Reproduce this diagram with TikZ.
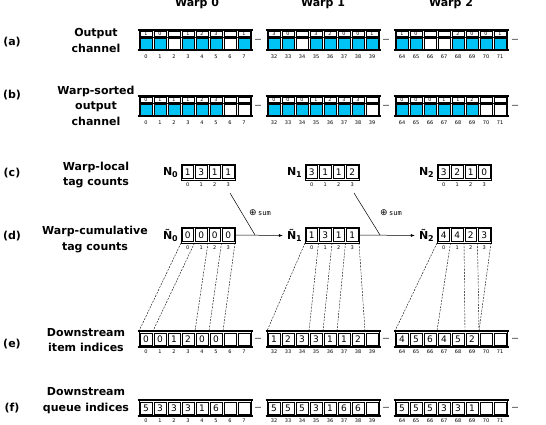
\documentclass[tikz,border=0pt]{standalone}
\usepackage{fontspec}
\setmainfont{DejaVu Sans}
\setmonofont{DejaVu Sans Mono}
\usetikzlibrary{calc,arrows.meta}
\definecolor{cellblue}{RGB}{0,195,245}

\tikzset{
  rowtitle/.style={font=\bfseries\fontsize{11}{15.5}\selectfont, align=center, inner sep=0},
  rowtag/.style={font=\bfseries\fontsize{11}{13}\selectfont, inner sep=0},
  warptitle/.style={font=\bfseries\fontsize{11}{13}\selectfont, inner sep=0, anchor=base},
  countname/.style={font=\bfseries\fontsize{11}{13}\selectfont, inner sep=0},
  idx/.style={font=\fontsize{5}{5}\selectfont, inner sep=0},
  stripval/.style={font=\fontsize{4.8}{4.8}\selectfont, inner sep=0},
  cellval/.style={font=\fontsize{9}{9}\selectfont, inner sep=0},
  cellline/.style={draw=black, line width=0.45pt},
  framebar/.style={line width=1.3pt},
  frameside/.style={line width=0.6pt},
  gap/.style={font=\bfseries\fontsize{6}{6}\selectfont, inner sep=0},
  link/.style={line width=0.4pt, dash pattern=on 2pt off 1.2pt},
  flow/.style={line width=0.5pt},
  holder/.style={inner sep=0, outer sep=0, anchor=north west},
}

% open frame with heavy top and bottom rails
\newcommand\railframe[4]{%
  \draw[framebar] ({#1-1.5},#2) -- ({#1+#3+1.5},#2);
  \draw[framebar] ({#1-1.5},{#2+#4}) -- ({#1+#3+1.5},{#2+#4});
  \draw[frameside] (#1,#2) -- (#1,{#2+#4}) ({#1+#3},#2) -- ({#1+#3},{#2+#4});
}

% channel slice: tag strip on top, occupancy cells below
% #1 name, #2 left, #3 top, #4 tags (- = empty slot), #5 first index
\newcommand\chanrow[5]{%
  \node[holder, minimum width=112pt, minimum height=20pt] (#1) at (#2,#3) {};
  \railframe{#2}{#3}{112}{20}
  \draw[frameside] (#2,{#3+7.5}) -- ({#2+112},{#3+7.5});
  \foreach \v [count=\i from 0] in {#4} {
    \pgfmathtruncatemacro\n{#5+\i}
    \draw[cellline] ({#2+14*\i+0.8},{#3+1.3}) rectangle ({#2+14*\i+13.2},{#3+6.4});
    \if-\v
      \draw[cellline, fill=white] ({#2+14*\i+0.8},{#3+8.6}) rectangle ({#2+14*\i+13.2},{#3+19.2});
    \else
      \draw[cellline, fill=cellblue] ({#2+14*\i+0.8},{#3+8.6}) rectangle ({#2+14*\i+13.2},{#3+19.2});
      \node[stripval] (#1-t\i) at ({#2+14*\i+7},{#3+3.9}) {\v};
    \fi
    \node[idx] (#1-i\i) at ({#2+14*\i+7},{#3+26.5}) {\n};
  }
}

% value slice with one number per slot
% #1 name, #2 left, #3 top, #4 values (- = empty), #5 first index
\newcommand\valrow[5]{%
  \node[holder, minimum width=112pt, minimum height=16pt] (#1) at (#2,#3) {};
  \railframe{#2}{#3}{112}{16}
  \foreach \k in {0,...,8} {\coordinate (#1-b\k) at ({#2+14*\k},#3);}
  \foreach \v [count=\i from 0] in {#4} {
    \pgfmathtruncatemacro\n{#5+\i}
    \draw[cellline] ({#2+14*\i+1},{#3+1.8}) rectangle ({#2+14*\i+13},{#3+14.2});
    \if-\v\else
      \node[cellval] (#1-v\i) at ({#2+14*\i+7},{#3+8.2}) {\v};
    \fi
    \node[idx] (#1-i\i) at ({#2+14*\i+7},{#3+21}) {\n};
  }
}

% per-warp tag counters
% #1 name, #2 caption, #3 caption x, #4 left, #5 top, #6 values
\newcommand\countrow[6]{%
  \node[countname, anchor=east] (#1-lab) at (#3,{#5+8.5}) {#2};
  \node[holder, draw, line width=0.6pt, minimum width=54pt, minimum height=16pt] (#1) at (#4,#5) {};
  \foreach \k in {0,...,4} {\coordinate (#1-b\k) at ({#4+13.5*\k},{#5+16});}
  \foreach \v [count=\i from 0] in {#6} {
    \draw[cellline] ({#4+13.5*\i+1.2},{#5+1.5}) rectangle ({#4+13.5*\i+12.3},{#5+14.5});
    \node[cellval] (#1-v\i) at ({#4+13.5*\i+6.75},{#5+8.2}) {\v};
    \node[idx] (#1-i\i) at ({#4+13.5*\i+6.75},{#5+21}) {\i};
  }
}

\newcommand\nsub[2]{#1\raisebox{-0.45ex}{\fontsize{8}{8}\selectfont #2}}

\begin{document}
\begin{tikzpicture}[x=1pt, y=-1pt]
\useasboundingbox (0,0) rectangle (546,425);

% warp headings
\node[warptitle] (w0) at (197,7) {Warp 0};
\node[warptitle] (w1) at (323,7) {Warp 1};
\node[warptitle] (w2) at (451,7) {Warp 2};

% row tags and titles
\node[rowtag] (ta) at (12,42) {(a)};
\node[rowtag] (tb) at (12,95) {(b)};
\node[rowtag] (tc) at (12,173) {(c)};
\node[rowtag] (td) at (12,236) {(d)};
\node[rowtag] (te) at (12,344) {(e)};
\node[rowtag] (tf) at (12,408) {(f)};

\node[rowtitle] (la) at (96,40.5) {Output\\channel};
\node[rowtitle] (lb) at (96,105.5) {Warp-sorted\\output\\channel};
\node[rowtitle] (lc) at (96,175) {Warp-local\\tag counts};
\node[rowtitle] (ld) at (95,239.5) {Warp-cumulative\\tag counts};
\node[rowtitle] (le) at (86,340) {Downstream\\item indices};
\node[rowtitle] (lf) at (86,400.5) {Downstream\\queue indices};

% (a) output channel
\chanrow{A0}{139}{30}{1,0,-,1,2,3,-,1}{0}
\chanrow{A1}{267}{30}{3,0,-,3,2,0,0,1}{32}
\chanrow{A2}{395}{30}{1,0,-,-,2,0,0,1}{64}

% (b) warp-sorted output channel
\chanrow{B0}{139}{96}{0,1,1,1,2,3,-,-}{0}
\chanrow{B1}{267}{96}{0,0,0,1,2,3,3,-}{32}
\chanrow{B2}{395}{96}{0,0,0,1,1,2,-,-}{64}

% (c) warp-local tag counts
\countrow{N0}{\nsub{N}{0}}{178}{181}{164}{1,3,1,1}
\countrow{N1}{\nsub{N}{1}}{302}{305}{164}{3,1,1,2}
\countrow{N2}{\nsub{N}{2}}{434}{437}{164}{3,2,1,0}

% (d) warp-cumulative tag counts
\countrow{T0}{\nsub{Ñ}{0}}{178}{181}{227}{0,0,0,0}
\countrow{T1}{\nsub{Ñ}{1}}{302}{305}{227}{1,3,1,1}
\countrow{T2}{\nsub{Ñ}{2}}{434}{437}{227}{4,4,2,3}

% (e) downstream item indices
\valrow{E0}{139}{331}{0,0,1,2,0,0,-,-}{0}
\valrow{E1}{267}{331}{1,2,3,3,1,1,2,-}{32}
\valrow{E2}{395}{331}{4,5,6,4,5,2,-,-}{64}

% (f) downstream queue indices
\valrow{F0}{139}{400}{5,3,3,3,1,6,-,-}{0}
\valrow{F1}{267}{400}{5,5,5,3,1,6,6,-}{32}
\valrow{F2}{395}{400}{5,5,5,3,3,1,-,-}{64}

% elided slots between warps
\foreach \r/\y in {a/40,b/106,e/339,f/408} {
  \node[gap] (g\r0) at (258,\y) {…};
  \node[gap] (g\r1) at (386,\y) {…};
  \node[gap] (g\r2) at (515,\y) {…};
}

% running sum from one warp to the next
\coordinate (s0) at (230,193);
\coordinate (j0) at (255,235);
\coordinate (s1) at (354,193);
\coordinate (j1) at (380,235);
\draw[flow] (s0) -- (j0);
\draw[flow] (s1) -- (j1);
\draw[flow, -{Latex[length=4pt,width=3pt]}] (T0.east) -- ([xshift=-4pt]T1-lab.west);
\draw[flow, -{Latex[length=4pt,width=3pt]}] (T1.east) -- ([xshift=-4pt]T2-lab.west);
\node[inner sep=0] (sum0) at (260,213) {\fontsize{9}{9}\selectfont ⊕\,\ttfamily\fontsize{7}{7}\selectfont sum};
\node[inner sep=0] (sum1) at (391,213) {\fontsize{9}{9}\selectfont ⊕\,\ttfamily\fontsize{7}{7}\selectfont sum};

% tag offsets scattered into the item slots
\foreach \a/\b in {0/0,1/1,2/4,3/5,4/6} \draw[link] (T0-b\a) -- (E0-b\b);
\foreach \a/\b in {0/0,1/3,2/4,3/5,4/7} \draw[link] (T1-b\a) -- (E1-b\b);
\foreach \a/\b in {0/0,1/3,2/5,3/6,4/6} \draw[link] (T2-b\a) -- (E2-b\b);

\end{tikzpicture}
\end{document}
